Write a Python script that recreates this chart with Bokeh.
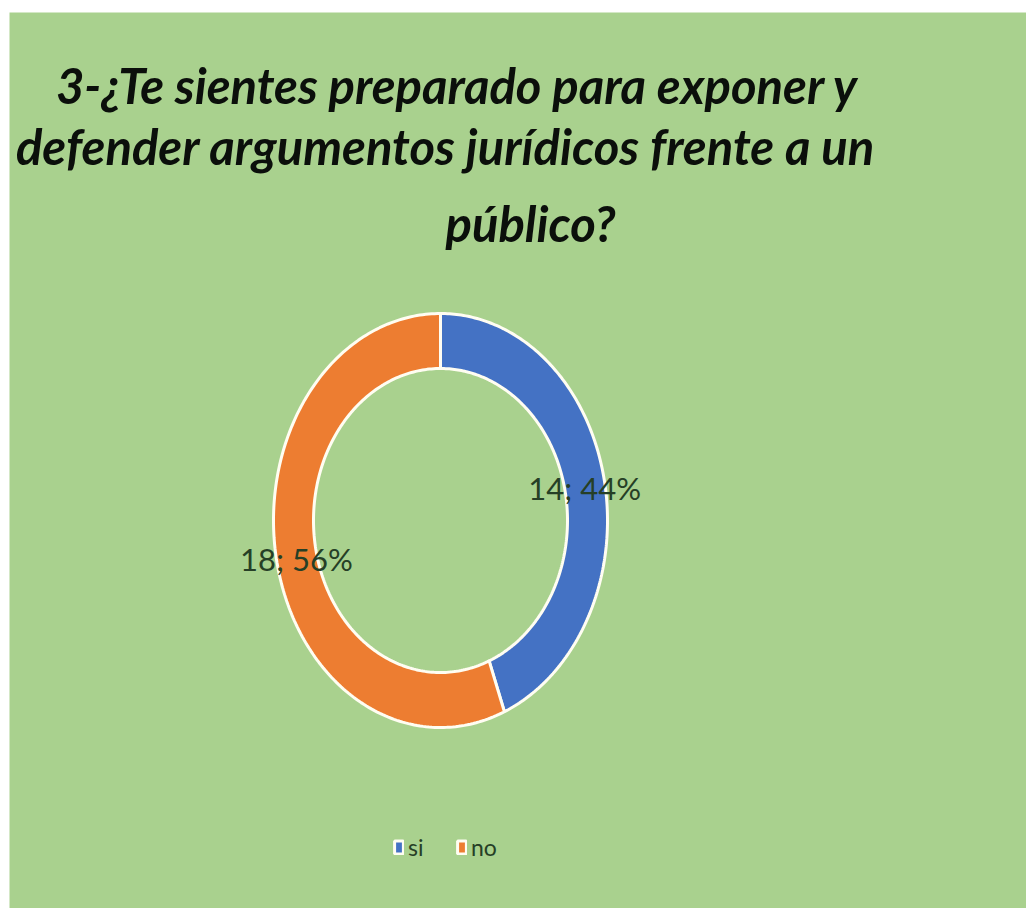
import numpy as np
from bokeh.plotting import figure
from bokeh.models import ColumnDataSource, Range1d, Legend, LegendItem, Spacer
from bokeh.layouts import column, row
from bokeh.core.properties import value
from bokeh.embed import file_html
from bokeh.resources import INLINE

# ---- data ----
categories = ["si", "no"]
counts = [14, 18]
colors = ["#4472C4", "#ED7D31"]
title_lines = ["3-¿Te sientes preparado para exponer y",
               "defender argumentos jurídicos frente a un",
               "público?"]

# ---- layout / style ----
W, H = 1017, 896
BG = "#A9D18E"
TXT = "#263f26"
TITLE_FONT = "Lato"
LABEL_FONT = "Lato"

cx, cy = 431, 388
rx_out, ry_out = 167, 207
rx_in, ry_in = 127, 152

p = figure(width=W, height=H, x_range=Range1d(0, W), y_range=Range1d(0, H),
           output_backend="svg", toolbar_location=None,
           x_axis_type=None, y_axis_type=None,
           min_border=0, min_border_left=0, min_border_right=0,
           min_border_top=0, min_border_bottom=0,
           background_fill_color=BG, border_fill_color=BG,
           outline_line_color=None)
p.grid.visible = False

total = float(sum(counts))
fracs = [c / total for c in counts]
xs, ys, lx, ly, labels = [], [], [], [], []
cum = 0.0
for c, f in zip(counts, fracs):
    a0 = np.deg2rad(90 - cum * 360)
    a1 = np.deg2rad(90 - (cum + f) * 360)
    t = np.linspace(a0, a1, 200)
    ox = cx + rx_out * np.cos(t)
    oy = cy + ry_out * np.sin(t)
    ix = cx + rx_in * np.cos(t[::-1])
    iy = cy + ry_in * np.sin(t[::-1])
    xs.append(list(np.concatenate([ox, ix])))
    ys.append(list(np.concatenate([oy, iy])))
    am = (a0 + a1) / 2
    lx.append(cx + (rx_out + rx_in) / 2 * np.cos(am))
    ly.append(cy + (ry_out + ry_in) / 2 * np.sin(am) - 3)
    labels.append(f"{c}; {round(f * 100)}%")
    cum += f

renderers = []
for i in range(len(categories)):
    sub = ColumnDataSource(dict(xs=[xs[i]], ys=[ys[i]]))
    r = p.patches("xs", "ys", source=sub, fill_color=colors[i],
                  line_color="#FFFDF2", line_width=3)
    renderers.append(r)

p.text(x=lx, y=ly, text=labels, text_font=value(LABEL_FONT),
       text_font_size="31px", text_color=TXT, text_align="center",
       text_baseline="middle")

# title
p.text(x=[448, 436, 521], y=[824, 763, 686], text=title_lines,
       text_font=value(TITLE_FONT), text_font_size="49px",
       text_font_style="bold italic", text_color="#0b0f0b",
       text_align="center", text_baseline="middle")

legend = Legend(items=[LegendItem(label=categories[i], renderers=[renderers[i]])
                       for i in range(len(categories))],
                orientation="horizontal", location=(384, 47),
                glyph_width=11, glyph_height=16, label_standoff=4, spacing=28,
                label_text_font=LABEL_FONT, label_text_font_size="23px",
                label_text_color=TXT, background_fill_alpha=0,
                border_line_color=None, padding=0, margin=0)
p.add_layout(legend)

layout = column(Spacer(width=W, height=12), row(Spacer(width=9, height=H), p))
open("out.html", "w").write(file_html(layout, INLINE))
